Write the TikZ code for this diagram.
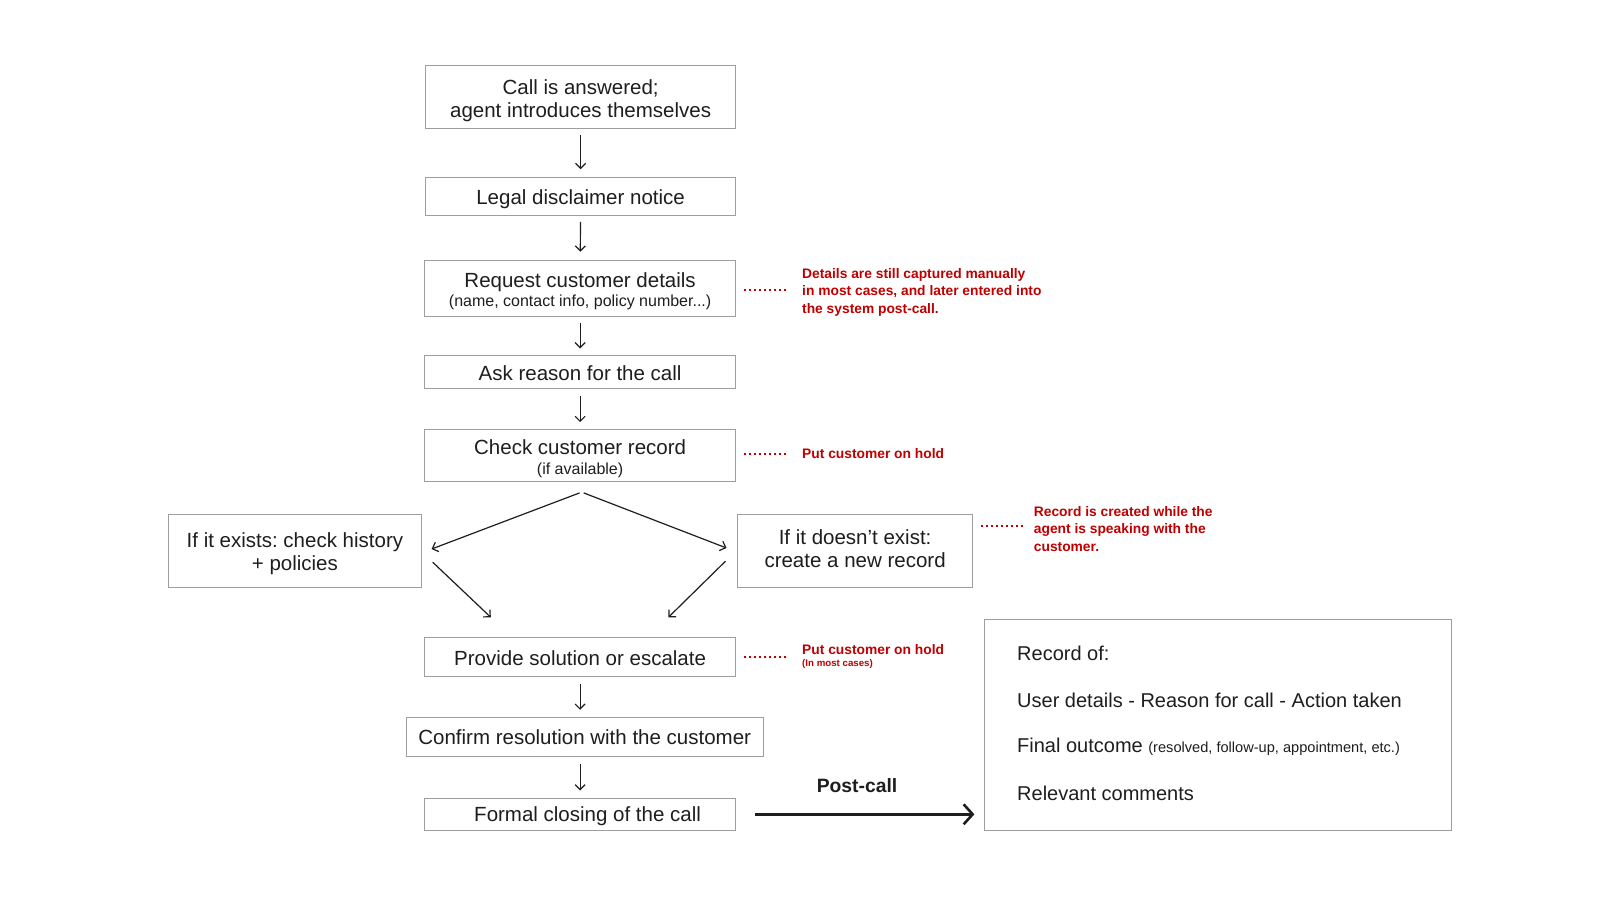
\documentclass[tikz,border=0pt]{standalone}
\usepackage{fontspec}
\setmainfont{Liberation Sans}
\frenchspacing
\usetikzlibrary{arrows.meta,calc}
\definecolor{boxgray}{HTML}{9E9E9E}
\definecolor{notered}{HTML}{C00000}
\definecolor{ink}{HTML}{1E1E1E}
\tikzset{
 box/.style={draw=boxgray, line width=1pt, inner sep=0pt},
 txt/.style={align=center, inner sep=0pt, text=ink, font=\fontsize{20.5}{23.5}\selectfont},
 flow/.style={ink, line width=1.2pt, -{Straight Barb[length=5pt,width=10pt]}},
 post/.style={ink, line width=2.6pt, -{Straight Barb[length=9pt,width=20pt]}},
 note/.style={text=notered, font=\bfseries\fontsize{13.8}{17.8}\selectfont, align=left, anchor=west, inner sep=0pt},
 dots/.style={notered, line width=2pt, dash pattern=on 2pt off 3pt},
 rec/.style={anchor=west, inner sep=0pt, text=ink, font=\fontsize{20}{23}\selectfont},
}
\begin{document}
\begin{tikzpicture}[x=1pt,y=-1pt]
\useasboundingbox[fill=white] (0,0) rectangle (1600,900);

% boxes
\node[box, minimum width=310pt, minimum height=63pt] (call) at (580.6,97) {};
\node[box, minimum width=310pt, minimum height=37.7pt] (legal) at (580.6,196.5) {};
\node[box, minimum width=311pt, minimum height=56pt] (request) at (580.1,288.2) {};
\node[box, minimum width=311pt, minimum height=33pt] (reason) at (580.1,372.4) {};
\node[box, minimum width=311pt, minimum height=52pt] (check) at (580.1,455.6) {};
\node[box, minimum width=253pt, minimum height=73.5pt] (exists) at (294.9,551) {};
\node[box, minimum width=234.6pt, minimum height=73.5pt] (doesnt) at (855.1,551) {};
\node[box, minimum width=311pt, minimum height=38.7pt] (provide) at (580.1,657.2) {};
\node[box, minimum width=357pt, minimum height=38.8pt] (confirm) at (584.7,736.7) {};
\node[box, minimum width=311pt, minimum height=32.6pt] (formal) at (580.1,814.3) {};
\node[box, minimum width=467pt, minimum height=211pt] (record) at (1218.4,725) {};

% box texts
\node[txt, yshift=-3.5pt] (tcall) at (call) {Call is answered;\\agent introduces themselves};
\node[txt, yshift=-3pt] (tlegal) at (legal) {Legal disclaimer notice};
\node[txt, yshift=-3pt] (trequest) at (request) {Request customer details\\[-5pt]{\fontsize{16}{18}\selectfont (name, contact info, policy number...)}};
\node[txt, yshift=-1pt] (treason) at (reason) {Ask reason for the call};
\node[txt, yshift=-3pt] (tcheck) at (check) {Check customer record\\[-4pt]{\fontsize{16}{18}\selectfont (if available)}};
\node[txt, yshift=-2.5pt] (texists) at (exists) {If it exists: check history\\+ policies};
\node[txt, yshift=2.5pt] (tdoesnt) at (doesnt) {If it doesn't exist:\\create a new record};
\node[txt, yshift=-1pt] (tprovide) at (provide) {Provide solution or escalate};
\node[txt, yshift=-0.5pt] (tconfirm) at (confirm) {Confirm resolution with the customer};
\node[txt, yshift=-2pt, xshift=7.5pt] (tformal) at (formal) {Formal closing of the call};

\node[rec] (r1) at (1017,653) {Record of:};
\node[rec] (r2) at (1017,700) {User details - Reason for call - Action taken};
\node[rec] (r3) at (1017,747) {Final outcome {\fontsize{14.6}{16}\selectfont (resolved, follow-up, appointment, etc.)}};
\node[rec] (r4) at (1017,793) {Relevant comments};

\node[inner sep=0pt, text=ink, font=\bfseries\fontsize{19.3}{22}\selectfont] (postlbl) at (857,785.7) {Post-call};

% notes
\node[note] (n1) at (802,292.3) {Details are still captured manually\\in most cases, and later entered into\\the system post-call.};
\node[note] (n2) at (802,453.5) {Put customer on hold};
\node[note] (n3) at (1033.7,529) {Record is created while the\\agent is speaking with the\\customer.};
\node[note] (n4) at (802,656.5) {Put customer on hold\\[-5pt]{\fontsize{9.7}{10.5}\selectfont (In most cases)}};

\draw[dots, shorten <=8pt, shorten >=13pt] (request.east |- 0,289.8) -- (n1.west |- 0,289.8);
\draw[dots, shorten <=8pt, shorten >=13pt] (n2.west -| check.east) -- (n2.west);
\draw[dots, shorten <=8pt, shorten >=8pt] (doesnt.east |- 0,525.5) -- (n3.west |- 0,525.5);
\draw[dots, shorten <=8pt, shorten >=13pt] (n4.west -| provide.east) -- (n4.west);

% vertical flow
\draw[flow, shorten <=6pt, shorten >=8pt] (call) -- (legal);
\draw[flow, shorten <=6pt, shorten >=8pt] (legal) -- (request);
\draw[flow, shorten <=6pt, shorten >=7pt] (request) -- (reason);
\draw[flow, shorten <=7pt, shorten >=7pt] (reason) -- (check);
\draw[flow, shorten <=7pt, shorten >=7pt] (provide.south) -- (provide.south |- confirm.north);
\draw[flow, shorten <=7pt, shorten >=7pt] (provide.south |- confirm.south) -- (provide.south |- formal.north);

% branches
\coordinate (bl1) at (579.6,492.9);
\coordinate (bl2) at (431.6,549);
\coordinate (br1) at (583.7,492.9);
\coordinate (br2) at (726.5,548);
\coordinate (ml1) at (432.7,562.2);
\coordinate (ml2) at (490.8,617.3);
\coordinate (mr1) at (725.5,561.2);
\coordinate (mr2) at (668.4,617.3);
\draw[flow] (bl1) -- (bl2);
\draw[flow] (br1) -- (br2);
\draw[flow] (ml1) -- (ml2);
\draw[flow] (mr1) -- (mr2);

% post-call
\draw[post, shorten <=19pt, shorten >=10pt] (formal.east) -- (record.west |- formal.east);
\end{tikzpicture}
\end{document}
